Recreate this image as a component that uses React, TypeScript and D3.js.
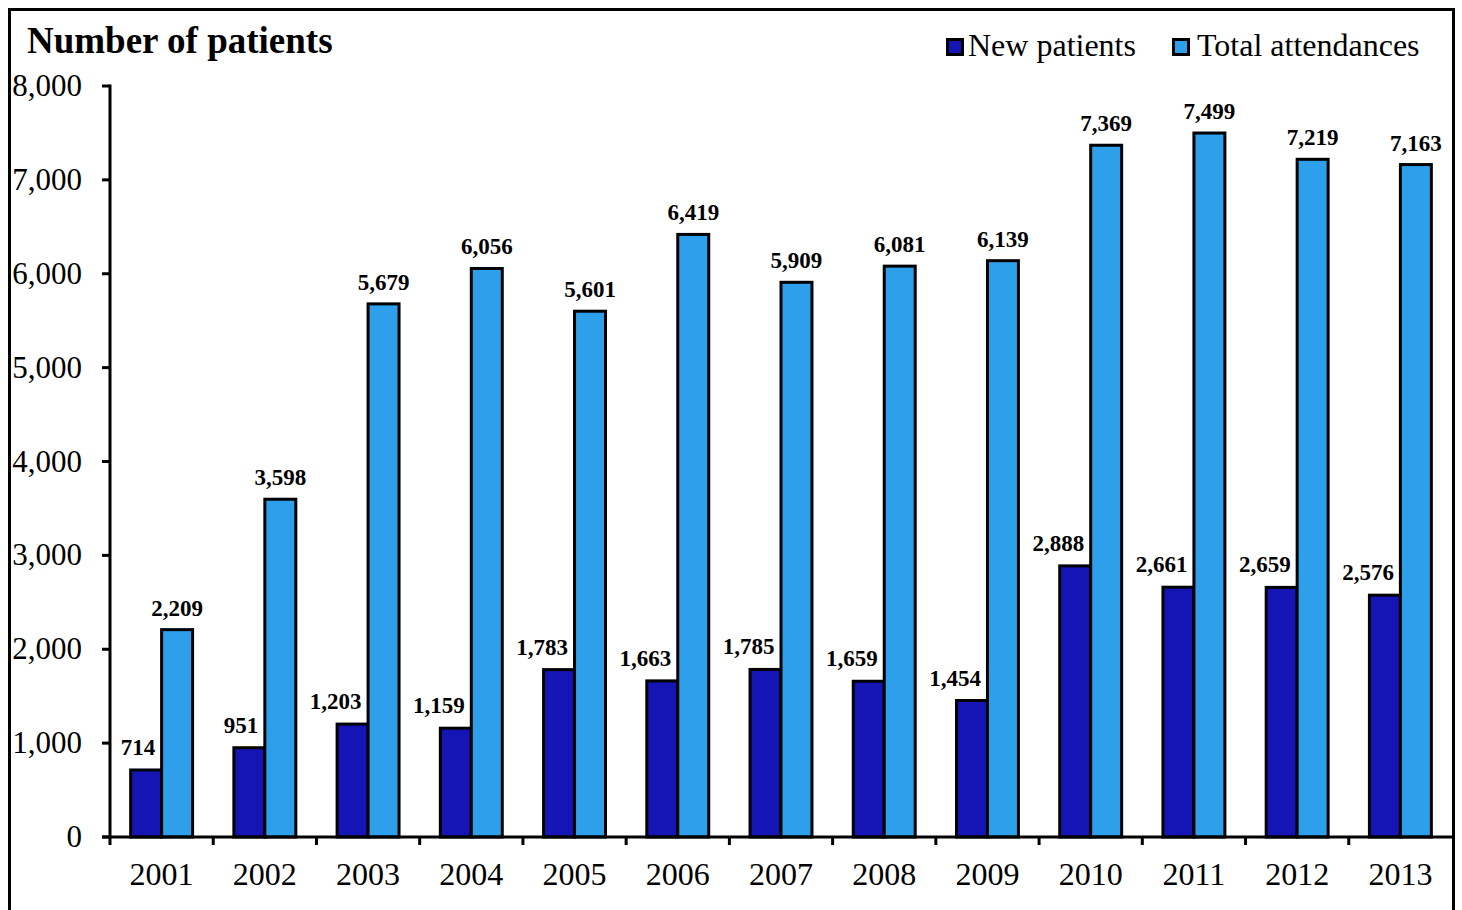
import React from "react";
import * as d3 from "d3";

const years = ["2001","2002","2003","2004","2005","2006","2007","2008","2009","2010","2011","2012","2013"];
const newPatients = [714, 951, 1203, 1159, 1783, 1663, 1785, 1659, 1454, 2888, 2661, 2659, 2576];
const totalAttendances = [2209, 3598, 5679, 6056, 5601, 6419, 5909, 6081, 6139, 7369, 7499, 7219, 7163];
const yTicks = [0, 1000, 2000, 3000, 4000, 5000, 6000, 7000, 8000];
const seriesNames = ["New patients", "Total attendances"];
const seriesColors = ["#1515B5", "#2EA0EB"];

const W = 1462, H = 910;
const left = 110, right = 1452, top = 86, bottom = 837;
const serif = "'Liberation Serif', 'Times New Roman', serif";

export default function App() {
  const x = d3.scaleBand<string>().domain(years).range([left, right]).paddingInner(0.4).paddingOuter(0.2);
  const step = x.step();
  const xs = d3.scaleBand<string>().domain(["n", "t"]).range([0, x.bandwidth()]);
  const y = d3.scaleLinear().domain([0, 8000]).range([bottom, top]);
  const fmt = d3.format(",");
  const catStart = (i: number) => left + i * step;

  return (
    <svg width={W} height={H} style={{ position: "absolute", left: 0, top: 0, background: "#fff" }}>
      <rect x={0} y={0} width={W} height={H} fill="#fff" />
      {/* frame */}
      <path d={`M9.5,${H} V9.5 H1453.5 V${H}`} fill="none" stroke="#000" strokeWidth={3} />
      {/* title */}
      <text x={27} y={53} fontFamily={serif} fontWeight="bold" fontSize={37} fill="#000">Number of patients</text>
      {/* legend */}
      {[{ sx: 946, tx: 968 }, { sx: 1172, tx: 1197 }].map((l, i) => (
        <g key={i}>
          <rect x={l.sx + 1.5} y={39.5} width={15} height={15} fill={seriesColors[i]} stroke="#000" strokeWidth={3} />
          <text x={l.tx} y={56} fontFamily={serif} fontSize={32} fill="#000">{seriesNames[i]}</text>
        </g>
      ))}
      {/* bars */}
      {years.map((yr, i) => {
        const x0 = x(yr)!;
        return (
          <g key={yr}>
            <rect x={x0 + xs("n")!} y={y(newPatients[i])} width={xs.bandwidth()} height={bottom - y(newPatients[i])}
              fill={seriesColors[0]} stroke="#000" strokeWidth={3} />
            <rect x={x0 + xs("t")!} y={y(totalAttendances[i])} width={xs.bandwidth()} height={bottom - y(totalAttendances[i])}
              fill={seriesColors[1]} stroke="#000" strokeWidth={3} />
          </g>
        );
      })}
      {/* labels */}
      {years.map((yr, i) => {
        const x0 = x(yr)!;
        const cN = x0 + xs("n")! + xs.bandwidth() / 2;
        const cT = x0 + xs("t")! + xs.bandwidth() / 2;
        const bN = y(newPatients[i]) - 15;
        const bT = y(totalAttendances[i]) - 14;
        return (
          <g key={yr}>
            <text x={cN + 9} y={bN} textAnchor="end" fontFamily={serif} fontWeight="bold" fontSize={23} fill="#000">{fmt(newPatients[i])}</text>
            <text x={cT} y={bT} textAnchor="middle" fontFamily={serif} fontWeight="bold" fontSize={23} fill="#000">{fmt(totalAttendances[i])}</text>
          </g>
        );
      })}
      {/* y axis */}
      <line x1={left} x2={left} y1={top - 1.5} y2={bottom} stroke="#000" strokeWidth={3} />
      {yTicks.map(t => (
        <g key={t}>
          <line x1={left - 8} x2={left} y1={y(t)} y2={y(t)} stroke="#000" strokeWidth={3} />
          <text x={82} y={y(t) + 10} textAnchor="end" fontFamily={serif} fontSize={31} fill="#000">{fmt(t)}</text>
        </g>
      ))}
      {/* x axis */}
      <line x1={left - 8} x2={right} y1={bottom} y2={bottom} stroke="#000" strokeWidth={3} />
      {d3.range(years.length).map(i => (
        <line key={i} x1={catStart(i)} x2={catStart(i)} y1={bottom} y2={bottom + 8} stroke="#000" strokeWidth={3} />
      ))}
      {years.map(yr => (
        <text key={yr} x={x(yr)! + x.bandwidth() / 2} y={885} textAnchor="middle" fontFamily={serif} fontSize={32} fill="#000">{yr}</text>
      ))}
    </svg>
  );
}
